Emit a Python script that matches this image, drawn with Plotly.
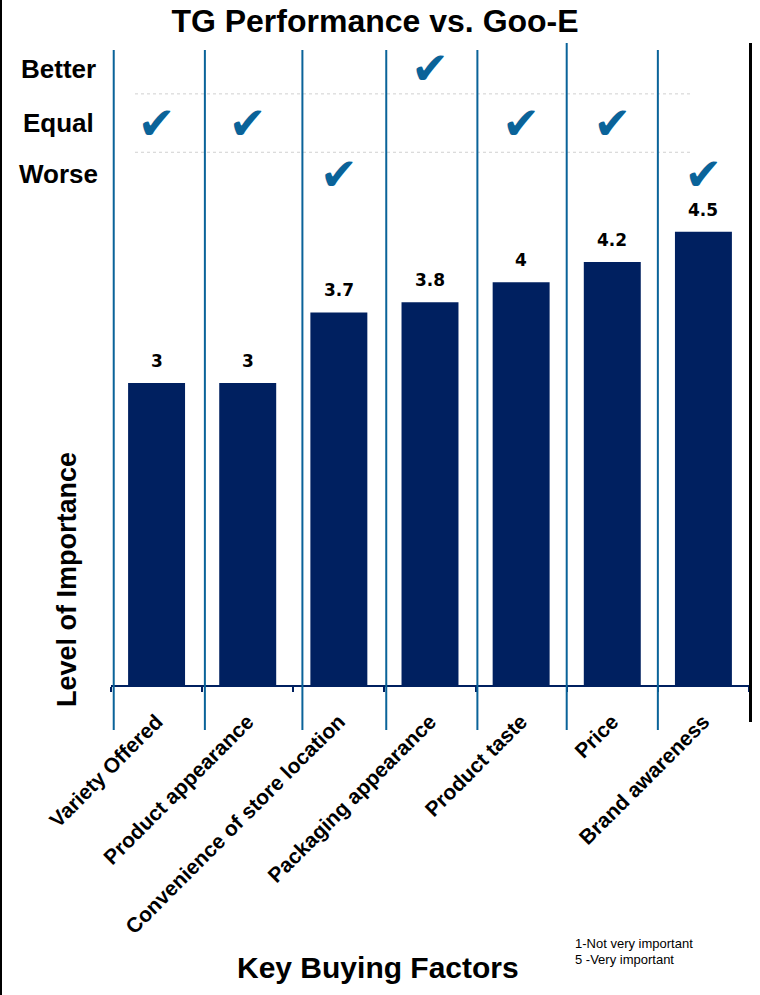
import plotly.graph_objects as go

# Key buying factors, their rated importance (1-5), and TG's standing vs. Goo-E
factors = [
    "Variety Offered",
    "Product appearance",
    "Convenience of store location",
    "Packaging appearance",
    "Product taste",
    "Price",
    "Brand awareness",
]
importance = [3, 3, 3.7, 3.8, 4, 4.2, 4.5]
performance = ["Equal", "Equal", "Worse", "Better", "Equal", "Equal", "Worse"]
rating_rows = ["Better", "Equal", "Worse"]

# Layout constants
NAVY = "#002060"
STEEL = "#0a6399"
SANS = "Liberation Sans, Arial, sans-serif"
Y_MAX = 6.375
ROW_LEVEL = {"Better": 6.12, "Equal": 5.58, "Worse": 5.07}
CHECK_LEVEL = {"Better": 6.075, "Equal": 5.535, "Worse": 5.03}
ROW_SEPARATORS = [5.87, 5.29]
DIVIDER_SHIFT = [0.03, 0.03, 0.10, 0.02, 0.02, 0.0, 0.0]

fig = go.Figure()

fig.add_trace(go.Bar(
    x=factors,
    y=importance,
    marker=dict(color=NAVY, line=dict(width=0)),
    hoverinfo="skip",
))

# check marks in the performance rows
fig.add_trace(go.Scatter(
    x=factors,
    y=[CHECK_LEVEL[p] for p in performance],
    mode="text",
    text=["✔"] * len(factors),
    textposition="middle center",
    textfont=dict(family="DejaVu Sans", size=45, color=STEEL),
    hoverinfo="skip",
))

annotations = []
for f, v in zip(factors, importance):
    annotations.append(dict(
        x=f, y=v, xref="x", yref="y", text=f"{v:g}", showarrow=False,
        yshift=22, font=dict(family="DejaVu Sans", size=17, color="black", weight="bold"),
    ))

for row in rating_rows:
    annotations.append(dict(
        x=-0.083, xref="paper", y=ROW_LEVEL[row], yref="y", text=row,
        showarrow=False, xanchor="center",
        font=dict(family=SANS, size=26, color="black", weight="bold"),
    ))

annotations.append(dict(
    x=(67 - 111) / 638, xref="paper", y=(685 - 580) / 642, yref="paper",
    text="Level of Importance", textangle=-90, showarrow=False,
    xanchor="center", yanchor="middle",
    font=dict(family=SANS, size=27, color="black", weight="bold"),
))
annotations.append(dict(
    x=(378 - 111) / 638, xref="paper", y=(685 - 968) / 642, yref="paper",
    text="Key Buying Factors", showarrow=False,
    xanchor="center", yanchor="middle",
    font=dict(family=SANS, size=30, color="black", weight="bold"),
))
for line, yc in [("1-Not very important", 944), ("5 -Very important", 959)]:
    annotations.append(dict(
        x=(573 - 111) / 638, xref="paper", y=(685 - yc) / 642, yref="paper",
        text=line, showarrow=False, xanchor="left", yanchor="middle",
        font=dict(family=SANS, size=13, color="black"),
    ))

shapes = []
# dotted separators between Better / Equal / Worse rows
for ys in ROW_SEPARATORS:
    shapes.append(dict(
        type="line", xref="paper", yref="y",
        x0=(135 - 111) / 638, x1=(693 - 111) / 638, y0=ys, y1=ys,
        line=dict(color="#d0d0d0", width=1, dash="dot"),
    ))
# blue column dividers
for i, s in enumerate(DIVIDER_SHIFT):
    xd = i - 0.5 + s
    shapes.append(dict(
        type="line", xref="x", yref="paper",
        x0=xd, x1=xd, y0=(685 - 730) / 642, y1=(685 - (43 if i == 5 else 50)) / 642,
        line=dict(color=STEEL, width=2),
    ))
# right-hand black rule
xr = (750.5 - 111) / 638
shapes.append(dict(
    type="line", xref="paper", yref="paper", x0=xr, x1=xr,
    y0=(685 - 722) / 642, y1=1.0, line=dict(color="black", width=3),
))
# left frame edge
shapes.append(dict(
    type="line", xref="paper", yref="paper", x0=(1 - 111) / 638, x1=(1 - 111) / 638,
    y0=-310 / 642, y1=1 + 43 / 642, line=dict(color="black", width=2),
))

fig.update_layout(
    width=760, height=995,
    margin=dict(l=111, r=11, t=43, b=310),
    paper_bgcolor="white", plot_bgcolor="white",
    showlegend=False,
    bargap=0.375,
    title=dict(
        text="TG Performance vs. Goo-E", x=375 / 760, xanchor="center",
        y=1 - 21 / 995, yanchor="middle", xref="container",
        font=dict(family=SANS, size=32, color="black", weight="bold"),
    ),
    xaxis=dict(
        type="category", range=[-0.5, 6.5],
        showline=True, linecolor=NAVY, linewidth=2,
        ticks="outside", tickson="boundaries", ticklen=5, tickcolor=NAVY, tickwidth=2,
        tickangle=-45, showgrid=False, zeroline=False, ticklabelstandoff=14,
        tickfont=dict(family=SANS, size=21, color="black", weight="bold"),
    ),
    yaxis=dict(
        range=[0, Y_MAX], showticklabels=False, showgrid=False, zeroline=False,
        showline=False, ticks="",
    ),
    annotations=annotations,
    shapes=shapes,
)

fig.write_html("out.html")
